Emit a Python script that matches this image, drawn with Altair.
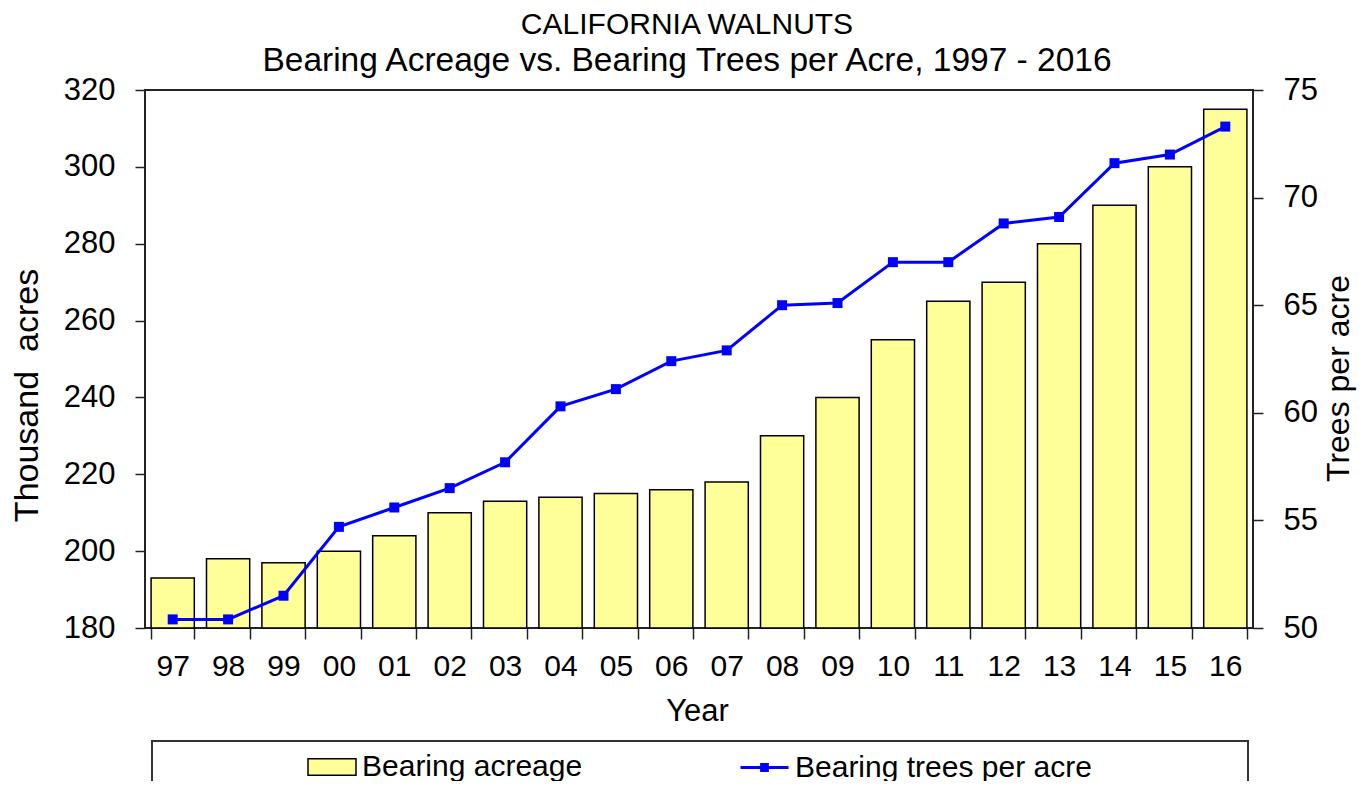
import altair as alt
import pandas as pd

years = ["97", "98", "99", "00", "01", "02", "03", "04", "05", "06",
         "07", "08", "09", "10", "11", "12", "13", "14", "15", "16"]
acreage = [193, 198, 197, 200, 204, 210, 213, 214, 215, 216,
           218, 230, 240, 255, 265, 270, 280, 290, 300, 315]
trees_per_acre = [50.4, 50.4, 51.5, 54.7, 55.6, 56.5, 57.7, 60.3, 61.1, 62.4,
                  62.9, 65.0, 65.1, 67.0, 67.0, 68.8, 69.1, 71.6, 72.0, 73.3]
left_ticks = [180, 200, 220, 240, 260, 280, 300, 320]
right_ticks = [50, 55, 60, 65, 70, 75]
series_names = ["Bearing acreage", "Bearing trees per acre"]
title_text = "CALIFORNIA WALNUTS"
subtitle_text = "Bearing Acreage vs. Bearing Trees per Acre, 1997 - 2016"

FONT = "Liberation Sans"

df = pd.DataFrame({
    "Year": years,
    "acreage": acreage,
    "trees": trees_per_acre,
    "s1": series_names[0],
    "s2": series_names[1],
})

x_enc = alt.X(
    "Year:N", sort=years,
    scale=alt.Scale(paddingInner=0.22, paddingOuter=0.11),
    axis=alt.Axis(
        title="Year", labelAngle=0, tickBand="extent",
        labelFont=FONT, labelFontSize=30, labelColor="black", labelPadding=12,
        tickSize=11, tickColor="#222", tickWidth=1.5, domain=False,
        titleFont=FONT, titleFontSize=31, titleFontWeight="normal", titleColor="black",
        titleX=552, titleY=92, titleBaseline="alphabetic", titleAlign="center",
    ),
)

bars = alt.Chart(df).mark_bar(stroke="black", strokeWidth=1.5).encode(
    x=x_enc,
    y=alt.Y(
        "acreage:Q",
        scale=alt.Scale(domain=[180, 320], nice=False, zero=False),
        axis=alt.Axis(
            values=left_ticks, title="Thousand\u00a0\u00a0acres", grid=False, domain=False,
            labelFont=FONT, labelFontSize=31, labelColor="black", labelPadding=20,
            tickSize=10, tickColor="#222", tickWidth=1.5,
            titleFont=FONT, titleFontSize=34, titleFontWeight="normal", titleColor="black",
            titleAngle=270, titleX=-118, titleY=305, titleAlign="center", titleBaseline="middle",
        ),
    ),
    y2=alt.datum(180),
    fill=alt.Fill(
        "s1:N",
        scale=alt.Scale(domain=[series_names[0]], range=["#FFFF99"]),
        legend=alt.Legend(
            title=None, orient="none", legendX=162, legendY=652,
            symbolType="M-1,-0.34H1V0.34H-1Z", symbolSize=2304,
            symbolStrokeColor="black", symbolStrokeWidth=1.5,
            labelFont=FONT, labelFontSize=30, labelColor="black", labelOffset=5,
            labelLimit=0,
        ),
    ),
)

line = alt.Chart(df).mark_line(strokeWidth=3).encode(
    x=alt.X("Year:N", sort=years),
    y=alt.Y(
        "trees:Q",
        scale=alt.Scale(domain=[50, 75], nice=False, zero=False),
        axis=alt.Axis(
            orient="right", values=right_ticks, title="Trees per acre", grid=False, domain=False,
            labelFont=FONT, labelFontSize=31, labelColor="black", labelPadding=20,
            tickSize=10, tickColor="#222", tickWidth=1.5,
            titleFont=FONT, titleFontSize=32, titleFontWeight="normal", titleColor="black",
            titleAngle=270, titleX=85, titleY=288, titleAlign="center", titleBaseline="middle",
        ),
    ),
    stroke=alt.Stroke(
        "s2:N",
        scale=alt.Scale(domain=[series_names[1]], range=["#0000FF"]),
        legend=alt.Legend(
            title=None, orient="none", legendX=594, legendY=652,
            symbolType="M-1,0H1M-0.12,-0.12H0.12V0.12H-0.12Z", symbolSize=2304,
            symbolStrokeWidth=3, symbolFillColor="#0000FF", symbolStrokeColor="#0000FF",
            labelFont=FONT, labelFontSize=30, labelColor="black", labelOffset=5,
            labelLimit=0,
        ),
    ),
)

points = alt.Chart(df).mark_point(shape="square", filled=True, size=100, opacity=1, color="#0000FF").encode(
    x=alt.X("Year:N", sort=years),
    y=alt.Y("trees:Q", scale=alt.Scale(domain=[50, 75], nice=False, zero=False), axis=None),
)

legend_box = alt.Chart(pd.DataFrame({"k": [0]})).mark_rect(
    fillOpacity=0, stroke="#333", strokeWidth=2
).encode(
    x=alt.value(7), x2=alt.value(1103), y=alt.value(651), y2=alt.value(720)
)

chart = alt.layer(bars, line, points, legend_box).resolve_scale(
    y="independent", fill="independent", stroke="independent"
).properties(
    width=1108, height=538,
    background="white",
    autosize=alt.AutoSizeParams(type="none"),
    padding={"left": 137, "top": 82, "right": 108, "bottom": 153},
    title=alt.Title(
        title_text, subtitle=subtitle_text,
        font=FONT, fontSize=30, fontWeight="normal", color="black",
        subtitleFont=FONT, subtitleFontSize=33.5, subtitleColor="black",
        subtitlePadding=5, anchor="middle", dx=-12, offset=-3,
    ),
).configure_view(stroke="#222", strokeWidth=2)

chart.save("out.html", embed_options={"renderer": "svg", "actions": False})
